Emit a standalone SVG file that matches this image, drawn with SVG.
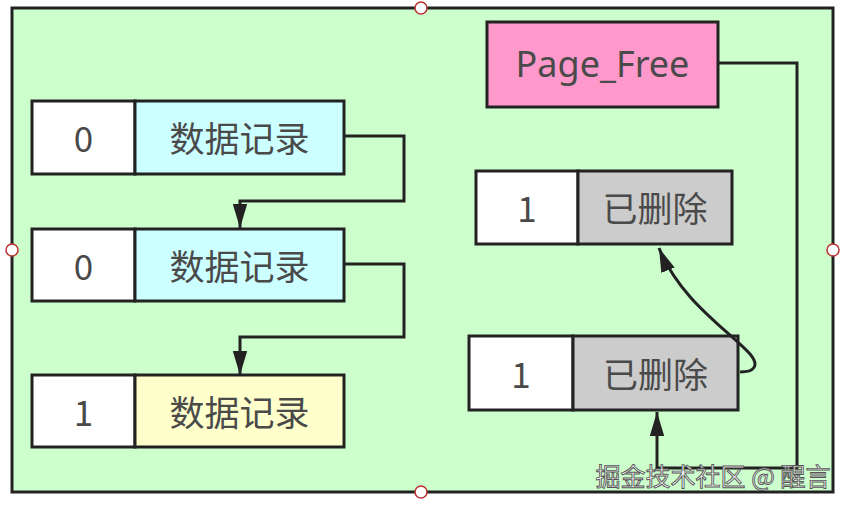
<svg xmlns="http://www.w3.org/2000/svg" width="847" height="505" viewBox="0 0 847 505">
<defs>
<style>
.box{stroke:#222;stroke-width:3}
.t{font-family:"Noto Sans CJK SC","Noto Sans",sans-serif;font-size:35px;fill:#4a4a4a;text-anchor:middle;dominant-baseline:central}
.c{fill:none;stroke:#222;stroke-width:3}
.h{fill:#fff;stroke:#b33;stroke-width:1.5}
</style>
<marker id="ah" viewBox="0 0 20 12" refX="20" refY="6" markerWidth="8" markerHeight="5" markerUnits="strokeWidth" orient="auto"><path d="M0,0 L20,6 L0,12 z" fill="#222"/></marker>
</defs>
<rect width="847" height="505" fill="#fff"/>
<g id="page">
<rect x="12" y="8" width="821" height="484" fill="#ccffcc" stroke="#222" stroke-width="3"/>
<circle class="h" cx="421" cy="8" r="6"/>
<circle class="h" cx="12" cy="250" r="6"/>
<circle class="h" cx="833" cy="250" r="6"/>
<circle class="h" cx="421" cy="492" r="6"/>
</g>
<g id="rec1">
<rect class="box" x="32" y="101" width="103" height="73" fill="#fff"/>
<rect class="box" x="135" y="101" width="209" height="73" fill="#ccffff"/>
<text class="t" x="83.5" y="136">0</text>
<text class="t" x="239.5" y="136">数据记录</text>
</g>
<g id="rec2">
<rect class="box" x="32" y="229" width="103" height="72" fill="#fff"/>
<rect class="box" x="135" y="229" width="209" height="72" fill="#ccffff"/>
<text class="t" x="83.5" y="264">0</text>
<text class="t" x="239.5" y="264">数据记录</text>
</g>
<g id="rec3">
<rect class="box" x="32" y="375" width="103" height="72" fill="#fff"/>
<rect class="box" x="135" y="375" width="209" height="72" fill="#ffffcc"/>
<text class="t" x="83.5" y="410">1</text>
<text class="t" x="239.5" y="410">数据记录</text>
</g>
<g id="pagefree">
<rect class="box" x="487" y="22" width="231" height="85" fill="#ff99cc"/>
<text class="t" x="602.5" y="63" style="font-family:'Noto Sans',sans-serif;font-size:36px">Page_Free</text>
</g>
<g id="del1">
<rect class="box" x="476" y="171" width="102" height="73" fill="#fff"/>
<rect class="box" x="578" y="171" width="154" height="73" fill="#cccccc"/>
<text class="t" x="527" y="206">1</text>
<text class="t" x="655" y="206">已删除</text>
</g>
<g id="del2">
<rect class="box" x="469" y="336" width="104" height="74" fill="#fff"/>
<rect class="box" x="573" y="336" width="165" height="74" fill="#cccccc"/>
<text class="t" x="521" y="372">1</text>
<text class="t" x="655.5" y="372">已删除</text>
</g>
<g id="connectors">
<path class="c" d="M344,136 H404 V201 H240 V228" marker-end="url(#ah)"/>
<path class="c" d="M344,264 H404 V337 H240 V375" marker-end="url(#ah)"/>
<path class="c" d="M718,63 H797 V468 H657 V412" marker-end="url(#ah)"/>
<path class="c" d="M740,372 C754,372 760,366 750,354 C728,330 680,300 659,248" marker-end="url(#ah)"/>
</g>
<text x="713" y="475" font-family="'Noto Sans CJK SC',sans-serif" font-size="25" fill="#fff" stroke="#555" stroke-width="0.9" text-anchor="middle" dominant-baseline="central">掘金技术社区 @ 醒言</text>
</svg>
